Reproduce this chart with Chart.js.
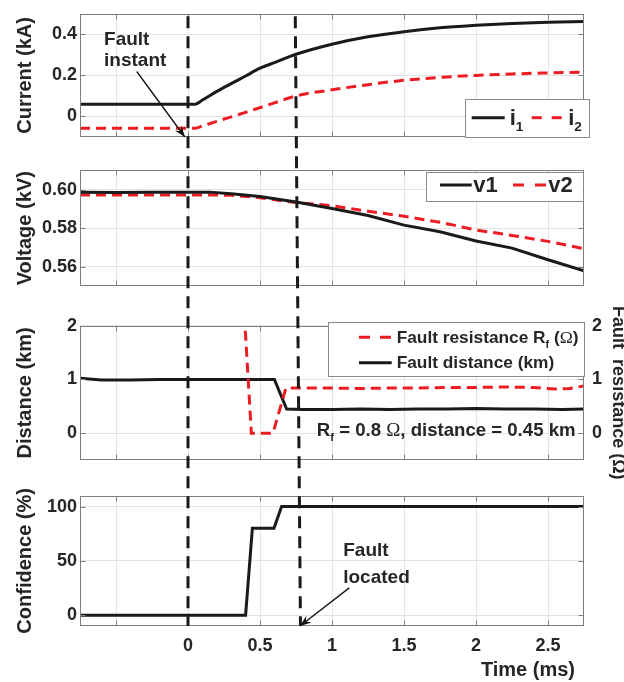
<!DOCTYPE html>
<html>
<head>
<meta charset="utf-8">
<script src="https://cdn.jsdelivr.net/npm/chart.js@4.4.1/dist/chart.umd.min.js"></script>
<style>
html,body{margin:0;padding:0;background:#fff;}
#wrap{position:relative;width:624px;height:682px;overflow:hidden;background:#fff;}
#wrap canvas{position:absolute;left:0;}
#overlay{pointer-events:none;}
</style>
</head>
<body>
<div id="wrap">
  <canvas id="c1" width="624" height="152" style="top:0px"></canvas>
  <canvas id="c2" width="624" height="148" style="top:152px"></canvas>
  <canvas id="c3" width="624" height="180" style="top:300px"></canvas>
  <canvas id="c4" width="624" height="202" style="top:480px"></canvas>
  <canvas id="overlay" width="624" height="682" style="top:0px"></canvas>
</div>
<script>
// ---------------- DATA ----------------
const xMin = -0.75, xMax = 2.75;
const xTicks = [-0.5, 0, 0.5, 1, 1.5, 2, 2.5];
const xTickLabels = ['', '0', '0.5', '1', '1.5', '2', '2.5'];

// Panel 1: currents (kA)
const tCurrent = [-0.75, 0, 0.05, 0.1, 0.2, 0.3, 0.4, 0.5, 0.6, 0.75, 1.0, 1.25, 1.5, 1.75, 2.0, 2.25, 2.5, 2.75];
const i1 = [0.06, 0.06, 0.06, 0.08, 0.122, 0.16, 0.197, 0.235, 0.262, 0.303, 0.352, 0.388, 0.413, 0.432, 0.444, 0.453, 0.459, 0.462];
const i2 = [-0.057, -0.057, -0.057, -0.046, -0.024, -0.002, 0.02, 0.043, 0.066, 0.1, 0.13, 0.155, 0.176, 0.19, 0.2, 0.207, 0.212, 0.216];
const currentTicks = [0, 0.2, 0.4];
const currentTickLabels = ['0', '0.2', '0.4'];

// Panel 2: voltages (kV)
const tVoltage = [-0.75, -0.5, -0.25, 0, 0.15, 0.3, 0.5, 0.75, 1.0, 1.25, 1.5, 1.75, 2.0, 2.25, 2.5, 2.75];
const v1 = [0.5986, 0.5985, 0.5986, 0.5986, 0.5987, 0.5978, 0.5964, 0.5936, 0.5902, 0.5866, 0.5816, 0.5782, 0.5734, 0.5697, 0.5637, 0.5579];
const v2 = [0.5972, 0.5972, 0.5972, 0.5972, 0.5972, 0.5971, 0.5958, 0.5933, 0.5917, 0.5888, 0.5862, 0.5831, 0.5791, 0.5763, 0.5732, 0.5694];
const voltageTicks = [0.56, 0.58, 0.60];
const voltageTickLabels = ['0.56', '0.58', '0.60'];

// Panel 3: fault distance (km) and fault resistance (Ω)
const tDistance = [-0.75, -0.6, -0.4, -0.2, 0, 0.2, 0.42, 0.6, 0.685, 0.8, 1.0, 1.2, 1.4, 1.6, 1.8, 2.0, 2.2, 2.4, 2.6, 2.75];
const faultDistance = [1.02, 0.99, 0.99, 1.0, 1.0, 1.0, 1.0, 1.0, 0.45, 0.44, 0.44, 0.45, 0.44, 0.45, 0.45, 0.46, 0.45, 0.45, 0.44, 0.45];
const tResistance = [0.385, 0.44, 0.59, 0.68, 0.8, 1.0, 1.2, 1.4, 1.6, 1.8, 2.0, 2.2, 2.4, 2.55, 2.65, 2.75];
const faultResistance = [2.5, 0, 0, 0.84, 0.84, 0.84, 0.83, 0.84, 0.84, 0.85, 0.85, 0.86, 0.85, 0.82, 0.83, 0.88];
const distanceTicks = [0, 1, 2];
const distanceTickLabels = ['0', '1', '2'];

// Panel 4: confidence (%)
const tConfidence = [-0.75, 0.4, 0.447, 0.597, 0.65, 2.75];
const confidence = [0, 0, 80, 80, 100, 100];
const confidenceTicks = [0, 50, 100];
const confidenceTickLabels = ['0', '50', '100'];

// Event markers (ms): fault instant and fault located
const markerLines = [{top: 0, bottom: 0}, {top: 0.745, bottom: 0.781}];

// ---------------- STYLE ----------------
const FONT = '"Liberation Sans", Arial, Helvetica, sans-serif';
const TXT = '#262626';
const GRID = '#e4e4e4';
const AX = '#7f7f7f';
const BLACK = '#1a1a1a';
const RED = '#ec1c24';

Chart.defaults.font.family = FONT;
Chart.defaults.font.weight = 'bold';
Chart.defaults.color = TXT;

const pts = (xs, ys) => xs.map((x, k) => ({x: x, y: ys[k]}));

function drawRich(ctx, str, x, y, size, color, align) {
  const segs = [];
  str.split(/(_\{[^}]*\})/).forEach(p => {
    if (!p) return;
    if (p.startsWith('_{')) segs.push({t: p.slice(2, -1), sub: true});
    else p.split(/(Ω)/).forEach(q => { if (q) segs.push({t: q, sym: q === 'Ω'}); });
  });
  const fontOf = s => s.sym ? `normal ${(size * 1.02).toFixed(1)}px "Liberation Serif", "DejaVu Serif", serif`
                            : `bold ${s.sub ? (size * 0.62).toFixed(1) : size}px ${FONT}`;
  ctx.save();
  ctx.fillStyle = color; ctx.textBaseline = 'alphabetic'; ctx.textAlign = 'left';
  let total = 0;
  segs.forEach(s => { ctx.font = fontOf(s); s.w = ctx.measureText(s.t).width; total += s.w; });
  let cx = align === 'center' ? x - total / 2 : align === 'right' ? x - total : x;
  segs.forEach(s => { ctx.font = fontOf(s); ctx.fillText(s.t, cx, y + (s.sub ? size * 0.3 : 0)); cx += s.w; });
  ctx.restore();
}

function drawArrow(ctx, x1, y1, x2, y2) {
  ctx.save();
  ctx.strokeStyle = '#111'; ctx.lineWidth = 1.3; ctx.setLineDash([]);
  ctx.beginPath(); ctx.moveTo(x1, y1); ctx.lineTo(x2, y2); ctx.stroke();
  const a = Math.atan2(y2 - y1, x2 - x1), L = 12, s = 0.36;
  ctx.fillStyle = '#111';
  ctx.beginPath();
  ctx.moveTo(x2, y2);
  ctx.lineTo(x2 - L * Math.cos(a - s), y2 - L * Math.sin(a - s));
  ctx.lineTo(x2 - 0.6 * L * Math.cos(a), y2 - 0.6 * L * Math.sin(a));
  ctx.lineTo(x2 - L * Math.cos(a + s), y2 - L * Math.sin(a + s));
  ctx.closePath();
  ctx.fill();
  ctx.restore();
}

const framePlugin = {
  id: 'frame',
  afterDatasetsDraw(chart) {
    const {ctx, chartArea: a, scales} = chart;
    ctx.save();
    ctx.strokeStyle = AX; ctx.lineWidth = 1; ctx.setLineDash([]);
    const l = Math.round(a.left) + 0.5, r = Math.round(a.right) - 0.5, t = Math.round(a.top) + 0.5, b = Math.round(a.bottom) - 0.5;
    ctx.strokeRect(l, t, r - l, b - t);
    const L = 5;
    ctx.beginPath();
    scales.x.ticks.forEach(tk => {
      const px = Math.round(scales.x.getPixelForValue(tk.value)) + 0.5;
      ctx.moveTo(px, b); ctx.lineTo(px, b - L);
      ctx.moveTo(px, t); ctx.lineTo(px, t + L);
    });
    scales.y.ticks.forEach(tk => {
      const py = Math.round(scales.y.getPixelForValue(tk.value)) + 0.5;
      ctx.moveTo(l, py); ctx.lineTo(l + L, py);
      ctx.moveTo(r, py); ctx.lineTo(r - L, py);
    });
    ctx.stroke();
    ctx.restore();
  }
};

function legendPlugin(spec) {
  return {
    id: 'customLegend',
    afterDraw(chart) {
      const {ctx, chartArea: a} = chart;
      const bx = a.right + spec.right - spec.w;
      const by = spec.fromBottom ? a.bottom + spec.dy - spec.h : a.top + spec.dy;
      ctx.save();
      ctx.fillStyle = '#fff'; ctx.fillRect(bx, by, spec.w, spec.h);
      ctx.strokeStyle = '#8a8a8a'; ctx.lineWidth = 1;
      ctx.strokeRect(Math.round(bx) + 0.5, Math.round(by) + 0.5, Math.round(spec.w), Math.round(spec.h));
      spec.items.forEach(it => {
        const ds = chart.data.datasets[it.ds];
        const sx = bx + it.x, sy = by + it.y;
        ctx.beginPath();
        ctx.strokeStyle = ds.borderColor; ctx.lineWidth = ds.borderWidth;
        ctx.setLineDash(it.dash || []);
        ctx.moveTo(sx, sy); ctx.lineTo(sx + it.len, sy); ctx.stroke();
        ctx.setLineDash([]);
        drawRich(ctx, ds.richLabel || ds.label, sx + it.len + it.gap, sy + spec.size * 0.32, spec.size, TXT, 'left');
      });
      ctx.restore();
    }
  };
}

function notesPlugin(notes, arrows) {
  return {
    id: 'notes',
    afterDraw(chart) {
      const {ctx, scales} = chart;
      (arrows || []).forEach(ar => {
        drawArrow(ctx, scales.x.getPixelForValue(ar.from[0]), scales.y.getPixelForValue(ar.from[1]),
                       scales.x.getPixelForValue(ar.to[0]), scales.y.getPixelForValue(ar.to[1]));
      });
      notes.forEach(n => {
        drawRich(ctx, n.text, scales.x.getPixelForValue(n.x), scales.y.getPixelForValue(n.y), n.size, TXT, 'left');
      });
    }
  };
}

// x-axis title, right aligned just inside the axis end
const xTitlePlugin = {
  id: 'xTitle',
  afterDraw(chart) {
    const s = chart.scales.x;
    drawRich(chart.ctx, 'Time (ms)', s.right - 9, s.bottom - 6, 20, TXT, 'right');
  }
};

function baseOptions(p) {
  const tickFont = {size: 18, weight: 'bold', family: FONT};
  return {
    responsive: false,
    animation: false,
    events: [],
    layout: {autoPadding: false, padding: {top: p.top, right: p.right, bottom: 0, left: 0}},
    plugins: {legend: {display: false}, tooltip: {enabled: false}},
    scales: {
      x: {
        type: 'linear', min: xMin, max: xMax,
        afterBuildTicks: s => { s.ticks = xTicks.map(v => ({value: v})); },
        afterFit: s => { s.height = p.xHeight; },
        grid: {color: GRID, lineWidth: 1, drawTicks: false},
        border: {display: false},
        ticks: {display: !!p.xLabels, padding: 9, font: tickFont, color: TXT, maxRotation: 0, autoSkip: false,
                callback: (v, i) => xTickLabels[i]},
        title: {display: false}
      },
      y: {
        type: 'linear', position: 'left', min: p.yMin, max: p.yMax,
        afterBuildTicks: s => { s.ticks = p.yTicks.map(v => ({value: v})); },
        afterFit: s => { s.width = 80; },
        grid: {color: GRID, lineWidth: 1, drawTicks: false},
        border: {display: false},
        ticks: {padding: 3, font: tickFont, color: TXT, callback: (v, i) => p.yLabels[i]},
        title: {display: true, text: p.yTitle, color: TXT, font: {size: 20, weight: 'bold', family: FONT},
                padding: {top: 13.5, bottom: 0}}
      }
    }
  };
}

const charts = [];

// Panel 1
charts.push(new Chart(document.getElementById('c1'), {
  type: 'line',
  data: {datasets: [
    {label: 'i1', richLabel: 'i_{1}', data: pts(tCurrent, i1), borderColor: BLACK, borderWidth: 3, pointRadius: 0, cubicInterpolationMode: 'monotone'},
    {label: 'i2', richLabel: 'i_{2}', data: pts(tCurrent, i2), borderColor: RED, borderWidth: 3, borderDash: [10, 6], pointRadius: 0, cubicInterpolationMode: 'monotone'}
  ]},
  options: baseOptions({top: 9.3, right: 40, xHeight: 15, yMin: -0.1, yMax: 0.5, yTicks: currentTicks, yLabels: currentTickLabels, yTitle: 'Current (kA)'}),
  plugins: [framePlugin,
    legendPlugin({right: 5, w: 124, h: 38, dy: 0, fromBottom: true, size: 22, items: [
      {ds: 0, x: 6.7, y: 18.7, len: 33, gap: 5},
      {ds: 1, x: 66.7, y: 18.7, len: 30, gap: 6.5, dash: [10, 10]}
    ]}),
    notesPlugin([
      {text: 'Fault', x: -0.583, y: 0.349, size: 19},
      {text: 'instant', x: -0.583, y: 0.244, size: 19}
    ], [{from: [-0.356, 0.219], to: [-0.022, -0.1]}])
  ]
}));

// Panel 2
charts.push(new Chart(document.getElementById('c2'), {
  type: 'line',
  data: {datasets: [
    {label: 'v1', data: pts(tVoltage, v1), borderColor: BLACK, borderWidth: 3, pointRadius: 0, tension: 0},
    {label: 'v2', data: pts(tVoltage, v2), borderColor: RED, borderWidth: 3, borderDash: [10, 6], pointRadius: 0, tension: 0}
  ]},
  options: baseOptions({top: 18.3, right: 40, xHeight: 2, yMin: 0.55, yMax: 0.61, yTicks: voltageTicks, yLabels: voltageTickLabels, yTitle: 'Voltage (kV)'}),
  plugins: [framePlugin,
    legendPlugin({right: -1.3, w: 156.7, h: 29, dy: 1.4, fromBottom: false, size: 22, items: [
      {ds: 0, x: 14, y: 13.3, len: 31.7, gap: 1.5},
      {ds: 1, x: 87, y: 13.3, len: 33.7, gap: 1.5, dash: [11, 11]}
    ]})
  ]
}));

// Panel 3
const opt3 = baseOptions({top: 25.7, right: 0, xHeight: 20, yMin: -0.5, yMax: 2, yTicks: distanceTicks, yLabels: distanceTickLabels, yTitle: 'Distance (km)'});
opt3.scales.y2 = {
  type: 'linear', position: 'right', min: -0.5, max: 2,
  afterBuildTicks: s => { s.ticks = distanceTicks.map(v => ({value: v})); },
  afterFit: s => { s.width = 40; },
  grid: {display: false, drawTicks: false},
  border: {display: false},
  ticks: {padding: 8, font: {size: 18, weight: 'bold', family: FONT}, color: TXT, callback: (v, i) => distanceTickLabels[i]},
  title: {display: true, text: 'Fault  resistance (Ω)', color: TXT, font: {size: 18, weight: 'bold', family: FONT}, padding: {top: -5, bottom: 0}}
};
charts.push(new Chart(document.getElementById('c3'), {
  type: 'line',
  data: {datasets: [
    {label: 'Fault resistance Rf (Ω)', richLabel: 'Fault resistance R_{f} (Ω)', yAxisID: 'y2', data: pts(tResistance, faultResistance), borderColor: RED, borderWidth: 3, borderDash: [10, 6], pointRadius: 0, tension: 0},
    {label: 'Fault distance (km)', yAxisID: 'y', data: pts(tDistance, faultDistance), borderColor: BLACK, borderWidth: 3, pointRadius: 0, tension: 0}
  ]},
  options: opt3,
  plugins: [framePlugin,
    notesPlugin([{text: 'R_{f} = 0.8 Ω, distance = 0.45 km', x: 0.894, y: -0.05, size: 18.6}]),
    legendPlugin({right: 0, w: 255.7, h: 54, dy: -4, fromBottom: false, size: 17.3, items: [
      {ds: 0, x: 30.7, y: 15.6, len: 32.7, gap: 5, dash: [11, 10]},
      {ds: 1, x: 30.7, y: 41, len: 32.7, gap: 5}
    ]})
  ]
}));

// Panel 4
charts.push(new Chart(document.getElementById('c4'), {
  type: 'line',
  data: {datasets: [
    {label: 'Confidence', data: pts(tConfidence, confidence), borderColor: BLACK, borderWidth: 3, pointRadius: 0, tension: 0}
  ]},
  options: baseOptions({top: 15.7, right: 40, xHeight: 56, xLabels: true, yMin: -10, yMax: 110, yTicks: confidenceTicks, yLabels: confidenceTickLabels, yTitle: 'Confidence (%)'}),
  plugins: [framePlugin, xTitlePlugin,
    notesPlugin([
      {text: 'Fault', x: 1.078, y: 54.8, size: 19},
      {text: 'located', x: 1.078, y: 30.0, size: 19}
    ], [{from: [1.12, 25.1], to: [0.778, -10]}])
  ]
}));

// Dashed event lines across all panels
function drawOverlay() {
  const ov = document.getElementById('overlay');
  const ctx = ov.getContext('2d');
  ctx.clearRect(0, 0, ov.width, ov.height);
  const c1 = charts[0], c4 = charts[3];
  const top = c1.canvas.offsetTop + c1.chartArea.top + 2.5;
  const bottom = c4.canvas.offsetTop + c4.chartArea.bottom;
  ctx.strokeStyle = BLACK; ctx.lineWidth = 3; ctx.setLineDash([12, 8]);
  markerLines.forEach(m => {
    ctx.beginPath();
    ctx.moveTo(c1.scales.x.getPixelForValue(m.top), top);
    ctx.lineTo(c4.scales.x.getPixelForValue(m.bottom), bottom);
    ctx.stroke();
  });
}
drawOverlay();
</script>
</body>
</html>
